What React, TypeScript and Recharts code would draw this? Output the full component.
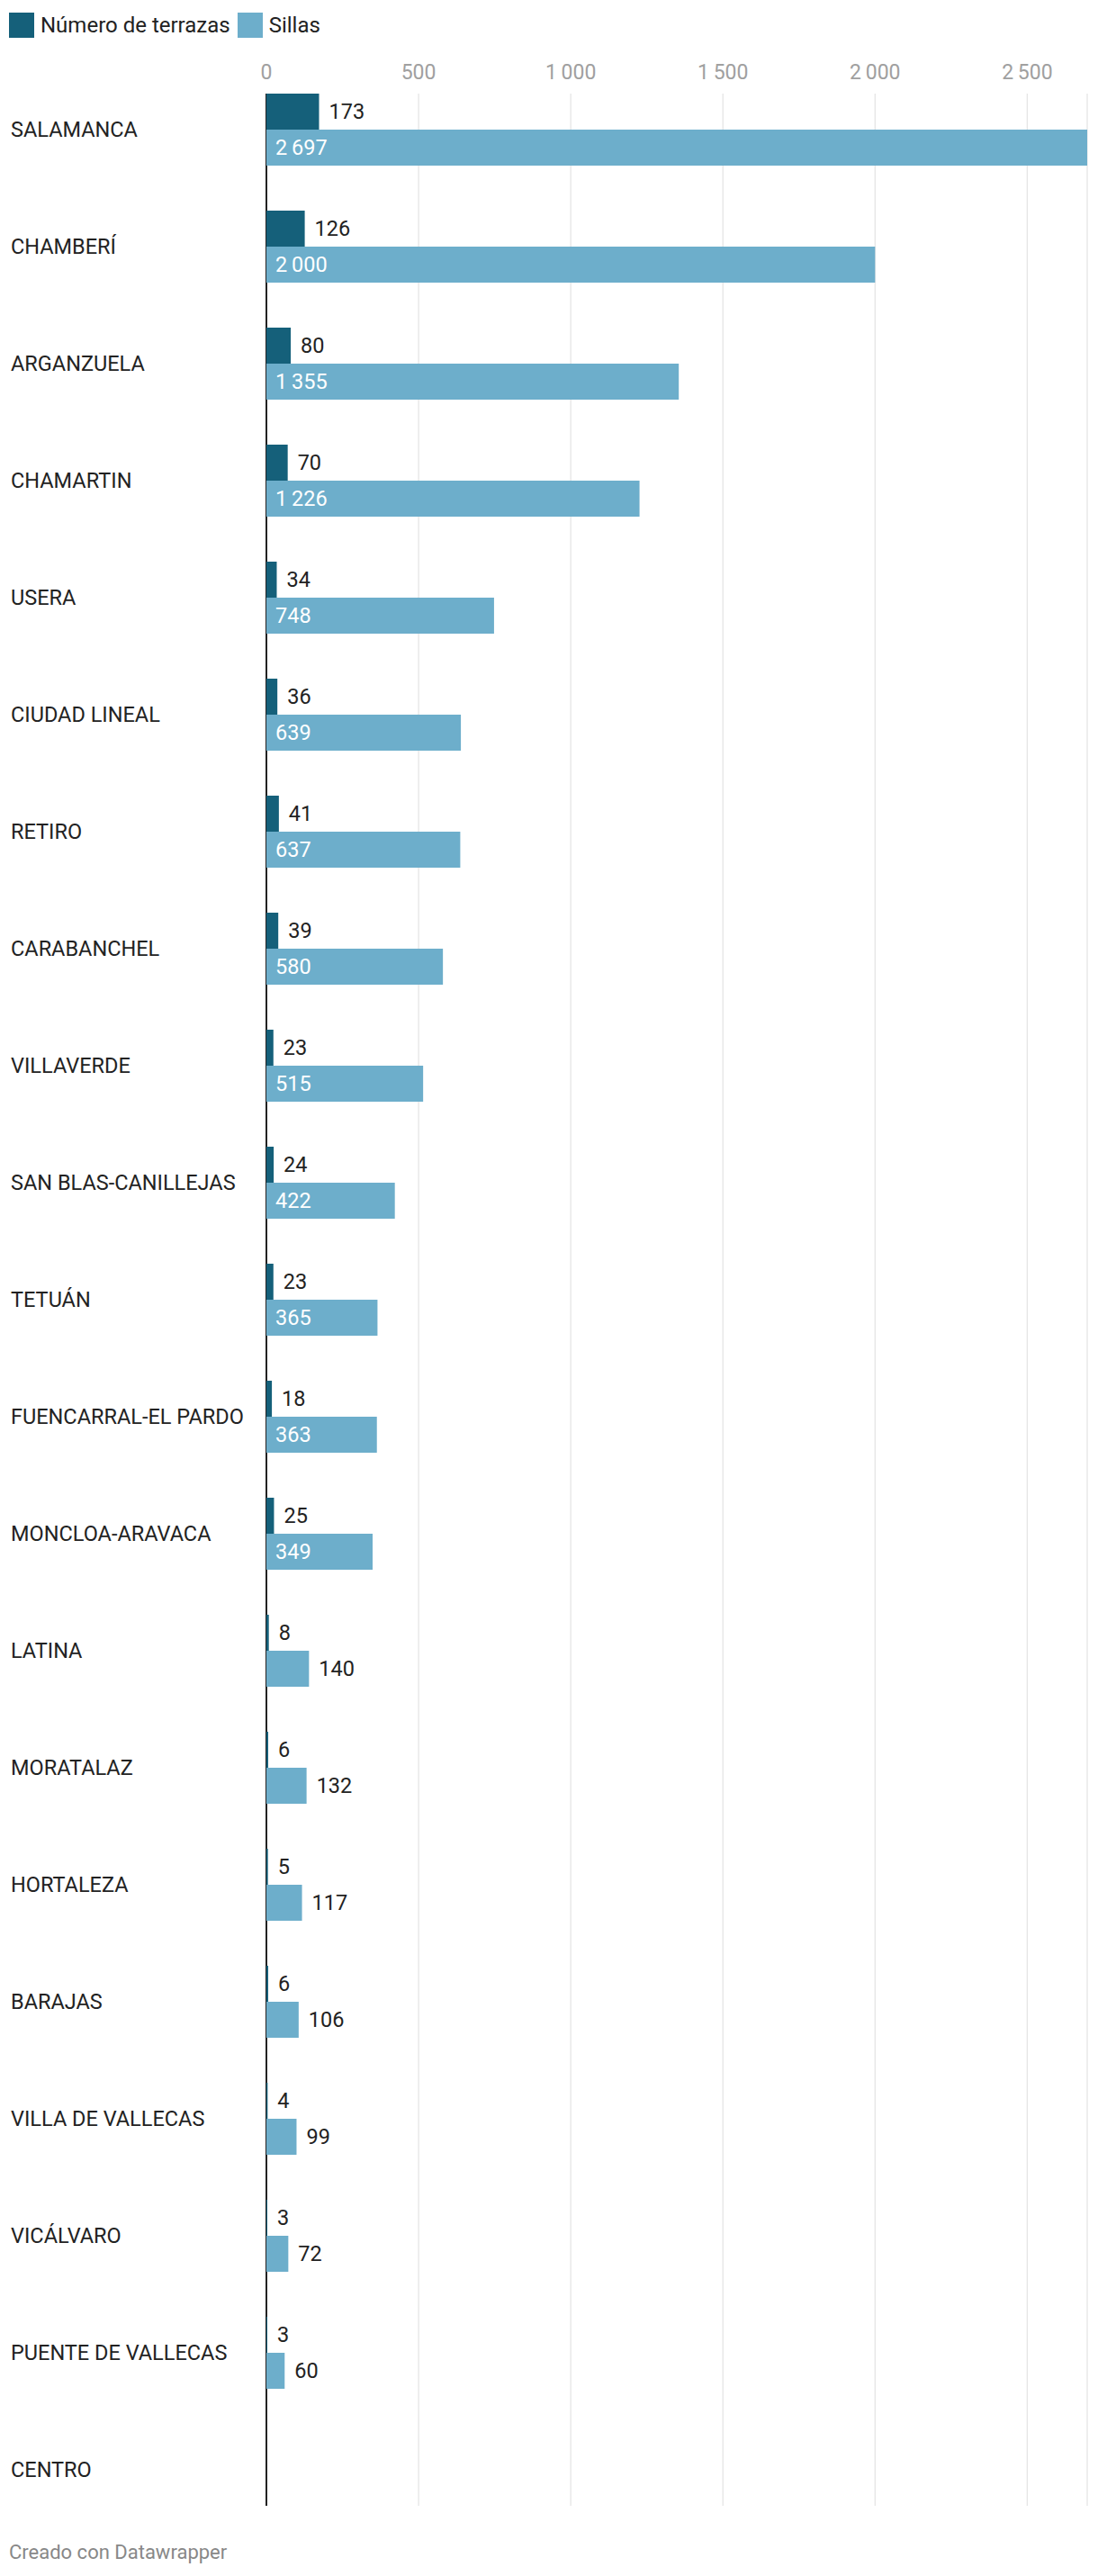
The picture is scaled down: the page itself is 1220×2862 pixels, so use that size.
import { Bar, BarChart, CartesianGrid, LabelList, XAxis, YAxis } from "recharts";

const distritos = [
  "SALAMANCA",
  "CHAMBERÍ",
  "ARGANZUELA",
  "CHAMARTIN",
  "USERA",
  "CIUDAD LINEAL",
  "RETIRO",
  "CARABANCHEL",
  "VILLAVERDE",
  "SAN BLAS-CANILLEJAS",
  "TETUÁN",
  "FUENCARRAL-EL PARDO",
  "MONCLOA-ARAVACA",
  "LATINA",
  "MORATALAZ",
  "HORTALEZA",
  "BARAJAS",
  "VILLA DE VALLECAS",
  "VICÁLVARO",
  "PUENTE DE VALLECAS",
  "CENTRO",
];

const terrazas = [173, 126, 80, 70, 34, 36, 41, 39, 23, 24, 23, 18, 25, 8, 6, 5, 6, 4, 3, 3, null];
const sillas = [2697, 2000, 1355, 1226, 748, 639, 637, 580, 515, 422, 365, 363, 349, 140, 132, 117, 106, 99, 72, 60, null];

const xTicks = [0, 500, 1000, 1500, 2000, 2500];

const data = distritos.map((name, i) => ({ name, terrazas: terrazas[i], sillas: sillas[i] }));

const DARK = "#15607a";
const LIGHT = "#6daecb";
const TEXT = "#222";
const FONT = "Roboto, sans-serif";

// layout
const W = 1220;
const H = 2862;
const ROW = 130;
const BAR = 40;
const PLOT_TOP = 79;
const PLOT_BOTTOM = 53;
const GAP = (ROW - 2 * BAR) / 2;
const gridTop = PLOT_TOP + GAP;
const gridHeight = H - PLOT_TOP - PLOT_BOTTOM - 2 * GAP;

const fmt = (v: number) => {
  const s = String(v);
  return s.length > 3 ? s.slice(0, s.length - 3) + "\u2009" + s.slice(-3) : s;
};

function XTick(props: any) {
  const { x, y, payload } = props;
  return (
    <text x={x} y={y + 9} textAnchor="middle" fill="#a0a0a0" fontSize={23} fontFamily={FONT}>
      {fmt(payload.value)}
    </text>
  );
}

function YTick(props: any) {
  const { y, payload } = props;
  return (
    <text x={12} y={y} dominantBaseline="central" fill={TEXT} fontSize={23.5} fontFamily={FONT}>
      {payload.value}
    </text>
  );
}

function makeLabel(canGoInside: boolean) {
  return (props: any) => {
    const { x, y, width, height, value } = props;
    if (value == null) return null;
    const label = fmt(value);
    const inside = canGoInside && width > label.length * 13 + 20;
    return (
      <text
        x={inside ? x + 10 : x + width + 11}
        y={y + height / 2}
        dominantBaseline="central"
        fill={inside ? "#fff" : TEXT}
        fontSize={23.5}
        fontFamily={FONT}
      >
        {label}
      </text>
    );
  };
}

function LegendItem({ color, label }: { color: string; label: string }) {
  return (
    <div style={{ display: "flex", alignItems: "center", marginRight: 8 }}>
      <div style={{ width: 28, height: 28, background: color, marginRight: 7 }} />
      <span style={{ fontSize: 24, color: TEXT }}>{label}</span>
    </div>
  );
}

export default function App() {
  return (
    <div
      style={{
        position: "absolute",
        left: 0,
        top: 0,
        width: W,
        height: H,
        background: "#fff",
        fontFamily: FONT,
      }}
    >
      <div style={{ position: "absolute", left: 10, top: 14, display: "flex", height: 28 }}>
        <LegendItem color={DARK} label="Número de terrazas" />
        <LegendItem color={LIGHT} label="Sillas" />
      </div>

      <BarChart
        width={W}
        height={H}
        data={data}
        layout="vertical"
        margin={{ top: PLOT_TOP - 30, right: 12, bottom: PLOT_BOTTOM, left: 0 }}
        barSize={BAR}
        barGap={0}
      >
        <CartesianGrid horizontal={false} y={gridTop} height={gridHeight} stroke="#e5e5e5" strokeWidth={1.3} />
        <XAxis
          type="number"
          orientation="top"
          domain={[0, "dataMax"]}
          ticks={xTicks}
          height={30}
          axisLine={false}
          tickLine={false}
          tickSize={0}
          tickMargin={0}
          tick={XTick}
        />
        <YAxis
          type="category"
          dataKey="name"
          width={296}
          axisLine={false}
          tickLine={false}
          interval={0}
          tick={YTick}
        />
        <Bar dataKey="terrazas" fill={DARK} isAnimationActive={false}>
          <LabelList dataKey="terrazas" content={makeLabel(false)} />
        </Bar>
        <Bar dataKey="sillas" fill={LIGHT} isAnimationActive={false}>
          <LabelList dataKey="sillas" content={makeLabel(true)} />
        </Bar>
        <CartesianGrid
          horizontal={false}
          verticalValues={[0]}
          y={gridTop}
          height={gridHeight}
          stroke="#222"
          strokeWidth={2}
        />
      </BarChart>

      <div
        style={{
          position: "absolute",
          left: 10,
          top: 2825,
          fontSize: 22,
          lineHeight: "22px",
          color: "#888",
        }}
      >
        Creado con Datawrapper
      </div>
    </div>
  );
}
